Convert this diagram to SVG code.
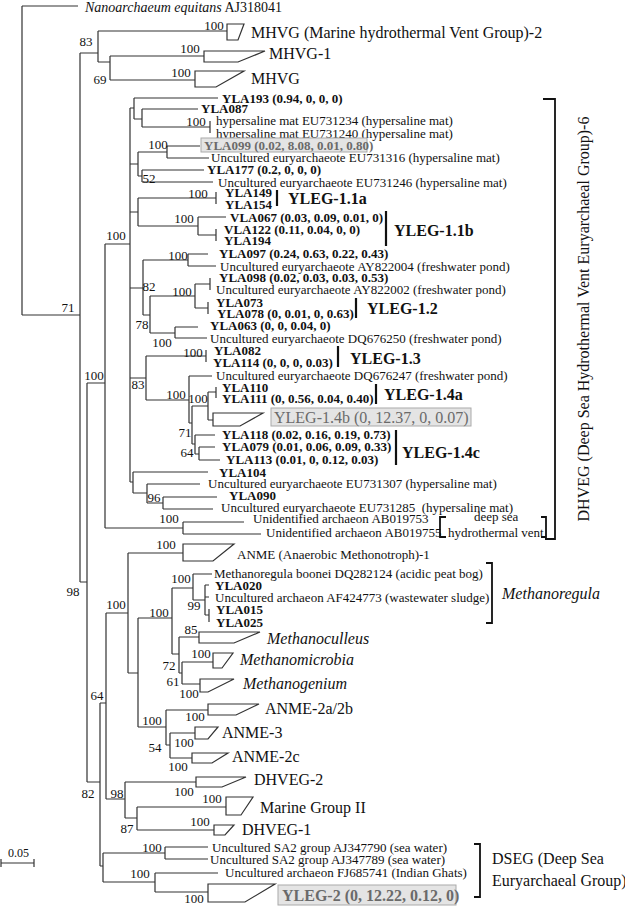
<svg xmlns="http://www.w3.org/2000/svg" width="625" height="906" viewBox="0 0 625 906">
<style>
text{font-family:"Liberation Serif","Times New Roman",serif;fill:#111;font-size:13px}
.b{font-weight:bold}
.i{font-style:italic}
.g{font-size:16px}
.n{text-anchor:middle}
.e{stroke:#333;stroke-width:1.2;fill:none}
.w{fill:#fff;stroke:#333;stroke-width:1.2}
.bar{stroke:#111;stroke-width:2.2}
.br{stroke:#111;stroke-width:1.8;fill:none}
.box{fill:#e4e4e4;stroke:#aaa;stroke-width:1}
.gt{fill:#6a6a6a}
</style>
<rect width="625" height="906" fill="#fff"/>
<g id="connectors" class="e">
<path d="M22 6V315M22 6H78M22 315H80M80 53V582M80 53H98M98 31V62M98 31H227M98 62H110M110 56V80M110 56H204M110 80H195"/>
<path d="M80 582H87M87 383V782M87 383H105M105 244V528M105 244H130M130 108V482"/>
<path d="M130 108H134M134 98V119M134 98H218M134 119H142M142 109V127M142 109H198M142 127H210M210 121V133"/>
<path d="M130 164H138M138 152V176M138 152H167M167 146V158M167 146H200M167 158H209M138 176H142M142 170V182M142 170H204M142 182H213"/>
<path d="M130 212H138M138 198V226M138 198H216M216 192V204M138 226H198M198 217V235M198 217H226M198 235H216M216 229V241"/>
<path d="M130 288H143M143 260V315M143 260H188M188 254V266M188 254H208M188 266H216M143 315H150M150 296V333M150 296H195M195 284V308M195 284H210M210 278V290M195 308H208M208 302V314M150 333H175M175 327V338M175 327H198M175 338H207"/>
<path d="M130 378H146M146 356V400M146 356H206M206 350V362M146 400H189M189 376V423M189 376H212M189 423H192M192 406V444M192 406H208M208 392V420M208 392H216M216 387V398M208 420H213M192 444H195M195 435V454M195 435H215M195 454H199M199 447V460M199 447H215M199 460H220"/>
<path d="M130 482H133M133 472V493M133 472H208M133 493H147M147 484V503M147 484H200M147 503H163M163 497V509M163 497H217M163 509H213M105 528H183M183 522V534M183 522H244M183 534H261"/>
<path d="M87 782H100M100 703V866M100 703H106M106 613V799M106 613H128M128 553V673M128 553H183M128 673H138M138 618V727M138 618H172M172 588V654M172 588H193M193 574V600M193 574H212M193 600H205M205 585V615M205 585H209M205 597H209M205 615H209M209 609V622"/>
<path d="M172 654H179M179 637V673M179 637H199M179 673H182M182 662V684M182 662H213M182 684H200"/>
<path d="M138 727H166M166 710V745M166 710H208M166 745H170M170 733V758M170 733H195M170 758H192"/>
<path d="M106 799H125M125 782V818M125 782H196M125 818H137M137 807V830M137 807H226M137 830H214"/>
<path d="M100 866H103M103 853V882M103 853H165M165 847V859M165 847H208M165 859H208M103 882H155M155 873V892M155 873H218M155 892H208"/>
<path d="M1 863H34M1 859V867M34 859V867"/>
</g>
<g id="bootstrap">
<text class="n" x="214" y="29.5">100</text><text class="n" x="86" y="45.5">83</text><text class="n" x="190" y="52.5">100</text><text class="n" x="181" y="76.5">100</text><text class="n" x="100" y="83.5">69</text>
<text class="n" x="196" y="125.5">100</text><text class="n" x="158" y="149">100</text><text class="n" x="149" y="182.5">52</text><text class="n" x="198" y="197.5">100</text><text class="n" x="184" y="222.5">100</text><text class="n" x="116" y="239.5">100</text>
<text class="n" x="178" y="259.5">100</text><text class="n" x="149" y="290.5">82</text><text class="n" x="182" y="295.5">100</text><text class="n" x="142" y="328.5">78</text><text class="n" x="162" y="346.5">100</text><text class="n" x="193" y="356.5">100</text>
<text class="n" x="138" y="388.5">83</text><text class="n" x="176" y="398.5">100</text><text class="n" x="198" y="402.5">100</text><text class="n" x="185" y="436.5">71</text><text class="n" x="187" y="456.5">64</text><text class="n" x="154" y="501.5">96</text><text class="n" x="169" y="522.5">100</text>
<text class="n" x="94" y="379.5">100</text><text class="n" x="68" y="311.5">71</text><text class="n" x="73" y="595.5">98</text>
<text class="n" x="166" y="548.5">100</text><text class="n" x="116" y="608.5">100</text><text class="n" x="181" y="582.5">100</text><text class="n" x="194" y="609.5">99</text><text class="n" x="159" y="616.5">100</text>
<text class="n" x="191" y="633.5">85</text><text class="n" x="169" y="669.5">72</text><text class="n" x="201" y="657.5">100</text><text class="n" x="173" y="685.5">61</text><text class="n" x="189" y="697.5">100</text>
<text class="n" x="97" y="699.5">64</text><text class="n" x="195" y="720.5">100</text><text class="n" x="152" y="724.5">100</text><text class="n" x="184" y="746.5">100</text><text class="n" x="155" y="751.5">54</text><text class="n" x="178" y="770.5">100</text>
<text class="n" x="184" y="795.5">100</text><text class="n" x="117" y="797.5">98</text><text class="n" x="88" y="797.5">82</text><text class="n" x="212" y="802.5">100</text><text class="n" x="200" y="825.5">100</text><text class="n" x="127" y="832.5">87</text>
<text class="n" x="152" y="851.5">100</text><text class="n" x="140" y="877.5">100</text><text class="n" x="194" y="903">100</text>
</g>
<g id="n-nano"><text x="85" y="12" style="font-size:14px"><tspan class="i">Nanoarchaeum equitans</tspan> AJ318041</text></g>
<g id="n-mhvg2"><polygon class="w" points="227,24 244,24 238,40 227,40"/><text class="g" x="251" y="37.5">MHVG (Marine hydrothermal Vent Group)-2</text></g>
<g id="n-mhvg1"><polygon class="w" points="204,51 265,51 238,62 204,62"/><text class="g" x="269" y="58.5">MHVG-1</text></g>
<g id="n-mhvg"><polygon class="w" points="195,71 244,71 216,87 195,87"/><text class="g" x="251" y="83.5">MHVG</text></g>
<g id="n-dhveg-leaves">
<text class="b" x="222" y="102.5">YLA193 (0.94, 0, 0, 0)</text>
<text class="b" x="201" y="112.5">YLA087</text>
<text x="216" y="124.5">hypersaline mat EU731234 (hypersaline mat)</text>
<text x="216" y="137.5">hypersaline mat EU731240 (hypersaline mat)</text>
<rect class="box" x="201" y="138" width="166" height="14"/><text class="b gt" x="204" y="149.5">YLA099 (0.02, 8.08, 0.01, 0.80)</text>
<text x="211" y="161.5">Uncultured euryarchaeote EU731316 (hypersaline mat)</text>
<text class="b" x="207" y="173.5">YLA177 (0.2, 0, 0, 0)</text>
<text x="218" y="186.5">Uncultured euryarchaeote EU731246 (hypersaline mat)</text>
<text class="b" x="225" y="196.5">YLA149</text><text class="b" x="225" y="208.5">YLA154</text>
<text class="b" x="230" y="221.5">VLA067 (0.03, 0.09, 0.01, 0)</text>
<text class="b" x="224" y="233.5">VLA122 (0.11, 0.04, 0, 0)</text>
<text class="b" x="224" y="244.5">YLA194</text>
<text class="b" x="219" y="257.5">YLA097 (0.24, 0.63, 0.22, 0.43)</text>
<text x="220" y="270.5">Uncultured euryarchaeote AY822004 (freshwater pond)</text>
<text class="b" x="219" y="281.5">YLA098 (0.02, 0.03, 0.03, 0.53)</text>
<text x="216" y="293.5">Uncultured euryarchaeote AY822002 (freshwater pond)</text>
<text class="b" x="216" y="306.5">YLA073</text>
<text class="b" x="217" y="317.5">YLA078 (0, 0.01, 0, 0.63)</text>
<text class="b" x="210" y="329.5">YLA063 (0, 0, 0.04, 0)</text>
<text x="210" y="342.5">Uncultured euryarchaeote DQ676250 (freshwater pond)</text>
<text class="b" x="214" y="354.5">YLA082</text>
<text class="b" x="213" y="366.5">YLA114 (0, 0, 0, 0.03)</text>
<text x="216" y="379.5">Uncultured euryarchaeote DQ676247 (freshwater pond)</text>
<text class="b" x="222" y="391.5">YLA110</text>
<text class="b" x="222" y="402.5">YLA111 (0, 0.56, 0.04, 0.40)</text>
<text class="b" x="222" y="438.5">YLA118 (0.02, 0.16, 0.19, 0.73)</text>
<text class="b" x="222" y="450.5">YLA079 (0.01, 0.06, 0.09, 0.33)</text>
<text class="b" x="226" y="463.5">YLA113 (0.01, 0, 0.12, 0.03)</text>
<text class="b" x="219" y="476.5">YLA104</text>
<text x="208" y="487.5">Uncultured euryarchaeote EU731307 (hypersaline mat)</text>
<text class="b" x="229" y="499.5">YLA090</text>
<text x="221" y="511.5" xml:space="preserve">Uncultured euryarchaeote EU731285  (hypersaline mat)</text>
<text x="253" y="522.5">Unidentified archaeon AB019753</text>
<text x="266" y="536.5">Unidentified archaeon AB019755</text>
</g>
<g id="n-yleg14b"><polygon class="w" points="213,413 263,413 240,426 213,426"/><rect class="box" x="271" y="408" width="200" height="18"/><text class="g gt" x="274" y="422.5">YLEG-1.4b (0, 12.37, 0, 0.07)</text></g>
<g id="n-groups">
<line class="bar" x1="277" y1="190" x2="277" y2="206"/><text class="g b" x="288" y="203.5">YLEG-1.1a</text>
<line class="bar" x1="386" y1="211" x2="386" y2="246"/><text class="g b" x="394" y="235.5">YLEG-1.1b</text>
<line class="bar" x1="356" y1="298" x2="356" y2="318"/><text class="g b" x="367" y="313.5">YLEG-1.2</text>
<line class="bar" x1="338" y1="346" x2="338" y2="367"/><text class="g b" x="350" y="363.5">YLEG-1.3</text>
<line class="bar" x1="376" y1="384" x2="376" y2="404"/><text class="g b" x="384" y="399.5">YLEG-1.4a</text>
<line class="bar" x1="396" y1="430" x2="396" y2="465"/><text class="g b" x="402" y="457.5">YLEG-1.4c</text>
</g>
<g id="n-deepsea"><path class="br" d="M446 517H440V537H446M541 517H546V537H541"/><text x="474" y="521">deep sea</text><text x="448" y="536.5">hydrothermal vent</text></g>
<g id="n-dhveg"><path class="br" d="M543 99H555V539H545"/><text class="g n" transform="translate(589 319) rotate(-90)">DHVEG (Deep Sea Hydrothermal Vent Euryarchaeal Group)-6</text></g>
<g id="n-anme1"><polygon class="w" points="183,544 234,544 213,561 183,561"/><text x="237" y="558.5">ANME (Anaerobic Methonotroph)-1</text></g>
<g id="n-methanoregula">
<text x="214" y="577.5">Methanoregula boonei DQ282124 (acidic peat bog)</text>
<text class="b" x="215" y="589.5">YLA020</text>
<text x="215" y="601.5">Uncultured archaeon AF424773 (wastewater sludge)</text>
<text class="b" x="216" y="613.5">YLA015</text>
<text class="b" x="216" y="626.5">YLA025</text>
<path class="br" d="M486 563H492V623H486"/><text class="g i" x="502" y="598.5">Methanoregula</text>
</g>
<g id="n-methanoculleus"><polygon class="w" points="199,632 260,632 234,643 199,643"/><text class="g i" x="267" y="643.5">Methanoculleus</text></g>
<g id="n-methanomicrobia"><polygon class="w" points="213,653 233,653 222,668 213,668"/><text class="g i" x="240" y="664.5">Methanomicrobia</text></g>
<g id="n-methanogenium"><polygon class="w" points="200,679 234,679 208,692 200,692"/><text class="g i" x="243" y="688.5">Methanogenium</text></g>
<g id="n-anme2ab"><polygon class="w" points="208,704 259,704 236,715 208,715"/><text class="g" x="265" y="713.5">ANME-2a/2b</text></g>
<g id="n-anme3"><polygon class="w" points="195,727 218,727 208,739 195,739"/><text class="g" x="222" y="737.5">ANME-3</text></g>
<g id="n-anme2c"><polygon class="w" points="192,753 228,753 212,763 192,763"/><text class="g" x="232" y="761.5">ANME-2c</text></g>
<g id="n-dhveg2"><polygon class="w" points="196,777 246,777 222,787 196,787"/><text class="g" x="254" y="784.5">DHVEG-2</text></g>
<g id="n-mg2"><polygon class="w" points="226,797 253,797 241,815 226,815"/><text class="g" x="260" y="812.5">Marine Group II</text></g>
<g id="n-dhveg1"><polygon class="w" points="214,825 234,825 225,835 214,835"/><text class="g" x="242" y="834.5">DHVEG-1</text></g>
<g id="n-dseg">
<text x="212" y="851.5">Uncultured SA2 group AJ347790 (sea water)</text>
<text x="210" y="863.5">Uncultured SA2 group AJ347789 (sea water)</text>
<text x="225" y="876.5">Uncultured archaeon FJ685741 (Indian Ghats)</text>
<polygon class="w" points="208,884 275,884 245,902 208,902"/>
<rect class="box" x="278" y="885" width="178" height="20"/><text class="g b gt" x="282" y="901">YLEG-2 (0, 12.22, 0.12, 0)</text>
<path class="br" d="M474 844H480V897H474"/>
<text class="g" x="492" y="863.5">DSEG (Deep Sea</text>
<text class="g" x="492" y="885.5">Euryarchaeal Group)</text>
</g>
<g id="scale"><text x="8" y="857" style="font-size:12px">0.05</text></g>
</svg>
